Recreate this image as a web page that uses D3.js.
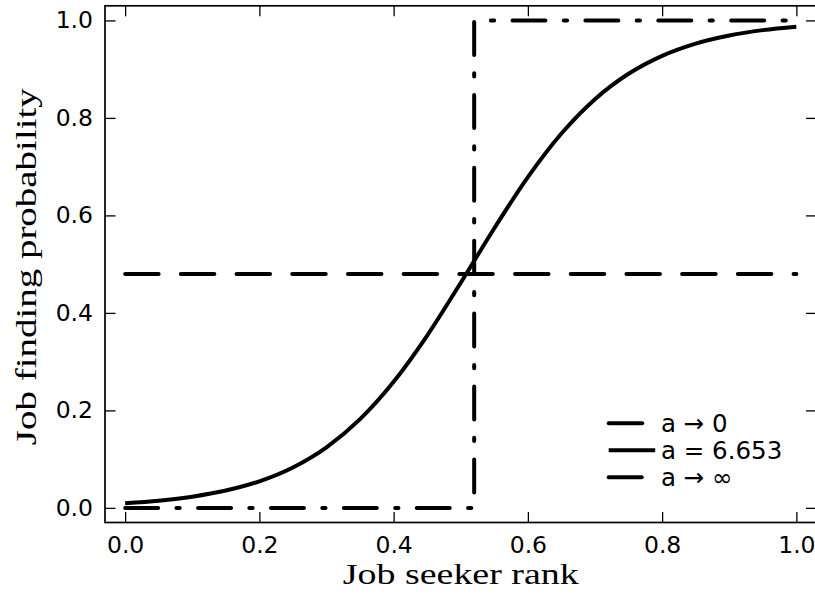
<!DOCTYPE html>
<html>
<head>
<meta charset="utf-8">
<script src="https://cdn.jsdelivr.net/npm/d3@7"></script>
<style>
  html, body { margin: 0; padding: 0; background: #fff; }
  svg { display: block; }
</style>
</head>
<body>
<div id="chart"></div>
<script>
// Job finding probability as a function of the job seeker's rank
const rank = [0, 0.05, 0.1, 0.15, 0.2, 0.25, 0.3, 0.35, 0.4, 0.45, 0.5,
              0.55, 0.6, 0.65, 0.7, 0.75, 0.8, 0.85, 0.9, 0.95, 1.0];
const probMid = [0.0094, 0.0147, 0.0229, 0.0355, 0.0545, 0.0829, 0.1242, 0.182, 0.2587, 0.3536, 0.4618,
                 0.5737, 0.6785, 0.768, 0.8385, 0.8906, 0.9274, 0.9525, 0.9692, 0.9801, 0.9872];
const rankFlat = [0, 1.0];
const probFlat = [0.48, 0.48];
const rankStep = [0, 0.52, 0.52, 1.0];
const probStep = [0, 0, 1, 1];
const xTicks = [0, 0.2, 0.4, 0.6, 0.8, 1.0];
const yTicks = [0, 0.2, 0.4, 0.6, 0.8, 1.0];
const legendLabels = ["a \u2192 0", "a = 6.653", "a \u2192 \u221E"];

const W = 815, H = 594;
const padL = 105, padR = 816.5, padT = 5.8, padB = 522.5;

const svg = d3.select("#chart").append("svg")
  .attr("width", W).attr("height", H)
  .attr("font-family", "'DejaVu Sans', sans-serif");

const x = d3.scaleLinear().domain([-0.03, 1.03]).range([padL, padR]);
const y = d3.scaleLinear().domain([-0.03, 1.03]).range([padB, padT]);

const tickLen = 10.5;
const tickFont = 23.5;
const legendFont = 24.5;

function styleAxis(g) {
  g.select(".domain").remove();
  g.selectAll(".tick line").attr("stroke", "#000").attr("stroke-width", 1.3);
  g.selectAll(".tick text").attr("fill", "#000").attr("font-size", tickFont)
    .attr("font-family", "'DejaVu Sans', sans-serif");
}

const fmt = d3.format(".1f");

svg.append("g").attr("transform", `translate(0,${padB})`)
  .call(d3.axisBottom(x).tickValues(xTicks).tickFormat(fmt).tickSizeInner(-tickLen).tickSizeOuter(0).tickPadding(14))
  .call(styleAxis);
svg.append("g").attr("transform", `translate(${padL},0)`)
  .call(d3.axisLeft(y).tickValues(yTicks).tickFormat(fmt).tickSizeInner(-tickLen).tickSizeOuter(0).tickPadding(12))
  .call(styleAxis);
svg.append("g").attr("transform", `translate(0,${padT})`)
  .call(d3.axisTop(x).tickValues(xTicks).tickFormat("").tickSizeInner(-tickLen).tickSizeOuter(0))
  .call(styleAxis);
svg.append("g").attr("transform", `translate(${padR},0)`)
  .call(d3.axisRight(y).tickValues(yTicks).tickFormat("").tickSizeInner(-tickLen).tickSizeOuter(0))
  .call(styleAxis);

// Frame
svg.append("rect")
  .attr("x", padL).attr("y", padT)
  .attr("width", padR - padL).attr("height", padB - padT)
  .attr("fill", "none").attr("stroke", "#000").attr("stroke-width", 1.7);

const styles = [
  { dash: "33.5,22.2" },
  { dash: null },
  { dash: "33,18.3,3.3,18.3" }
];

const series = [
  { xs: rankFlat, ys: probFlat, curve: d3.curveLinear },
  { xs: rank, ys: probMid, curve: d3.curveMonotoneX },
  { xs: rankStep, ys: probStep, curve: d3.curveLinear }
];

series.forEach((s, i) => {
  const line = d3.line().curve(s.curve)
    .x(d => x(d[0])).y(d => y(d[1]));
  const pts = s.xs.map((v, k) => [v, s.ys[k]]);
  svg.append("path")
    .attr("d", line(pts))
    .attr("fill", "none")
    .attr("stroke", "#000")
    .attr("stroke-width", 4)
    .attr("stroke-linecap", styles[i].dash ? "round" : "butt")
    .attr("stroke-linejoin", "round")
    .attr("stroke-dasharray", styles[i].dash);
});

// Legend
const legend = svg.append("g");
const legX = 608.7, legLen = 46.5, legY0 = 423.3, legStep = 27;
legendLabels.forEach((lab, i) => {
  const yy = legY0 + i * legStep;
  legend.append("line")
    .attr("x1", legX).attr("x2", legX + legLen)
    .attr("y1", yy).attr("y2", yy)
    .attr("stroke", "#000").attr("stroke-width", 4)
    .attr("stroke-linecap", styles[i].dash ? "round" : "butt")
    .attr("stroke-dasharray", styles[i].dash);
  legend.append("text")
    .attr("x", 661).attr("y", yy + 9)
    .attr("font-size", legendFont)
    .attr("fill", "#000")
    .text(lab);
});

// Axis titles
svg.append("text")
  .attr("x", (padL + padR) / 2).attr("y", 583.5)
  .attr("text-anchor", "middle")
  .attr("font-family", "'Liberation Serif', serif")
  .attr("font-size", 29)
  .attr("textLength", 236).attr("lengthAdjust", "spacingAndGlyphs")
  .attr("fill", "#000")
  .text("Job seeker rank");

svg.append("text")
  .attr("transform", `translate(36,${(padT + padB) / 2 + 2.5}) rotate(-90)`)
  .attr("text-anchor", "middle")
  .attr("font-family", "'Liberation Serif', serif")
  .attr("font-size", 29)
  .attr("textLength", 357).attr("lengthAdjust", "spacingAndGlyphs")
  .attr("fill", "#000")
  .text("Job finding probability");
</script>
</body>
</html>
